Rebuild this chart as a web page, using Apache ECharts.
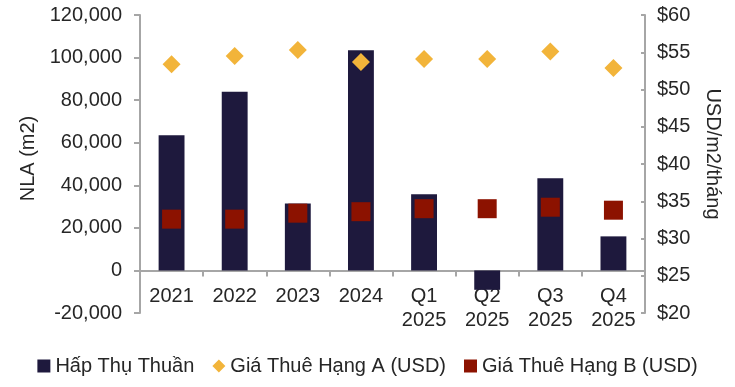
<!DOCTYPE html>
<html><head><meta charset="utf-8">
<script src="https://cdn.jsdelivr.net/npm/echarts@6/dist/echarts.min.js"></script>
<style>html,body{margin:0;padding:0;background:#fff}#c{width:735px;height:387px}</style>
</head><body><div id="c"></div>
<script>
var categories = ['2021', '2022', '2023', '2024', 'Q1\n2025', 'Q2\n2025', 'Q3\n2025', 'Q4\n2025'];
var netAbsorption = [63500, 84000, 31500, 103400, 35800, -9100, 43300, 16000];
var rentA = [53.4, 54.5, 55.3, 53.7, 54.1, 54.1, 55.1, 52.9];
var rentB = [32.6, 32.6, 33.4, 33.6, 34.0, 34.0, 34.2, 33.8];
var seriesNames = ['Hấp Thụ Thuần', 'Giá Thuê Hạng A (USD)', 'Giá Thuê Hạng B (USD)'];

var font = 'Liberation Sans, Arial, sans-serif';
var txt = '#262626';
var axisCol = '#a6a6a6';
var chart = echarts.init(document.getElementById('c'));
chart.setOption({
  animation: false,
  textStyle: {fontFamily: font},
  grid: {left: 140, right: 90, top: 15, bottom: 74},
  legend: {
    bottom: 6, left: 'center', itemGap: 18, itemWidth: 13, itemHeight: 13,
    textStyle: {fontSize: 20, color: txt, fontFamily: font},
    data: [
      {name: seriesNames[0], icon: 'rect'},
      {name: seriesNames[1], icon: 'diamond'},
      {name: seriesNames[2], icon: 'rect'}
    ]
  },
  xAxis: {
    type: 'category', data: categories,
    axisLine: {lineStyle: {color: axisCol, width: 2}},
    axisTick: {show: true, length: 6, lineStyle: {color: axisCol, width: 2}},
    axisLabel: {color: txt, fontSize: 20, margin: -29, lineHeight: 24}
  },
  yAxis: [{
    type: 'value', min: -20000, max: 120000, interval: 20000, position: 'left',
    name: 'NLA (m2)', nameLocation: 'middle', nameGap: 102,
    nameTextStyle: {fontSize: 20, color: txt, padding: [0, 0, 0, 11]},
    axisLine: {show: true, lineStyle: {color: axisCol, width: 2}},
    axisTick: {show: true, length: 6, lineStyle: {color: axisCol, width: 2}},
    splitLine: {show: false},
    axisLabel: {color: txt, fontSize: 20, margin: 18,
      formatter: function (v) { return v.toLocaleString('en-US'); }}
  }, {
    type: 'value', min: 20, max: 60, interval: 5, position: 'right',
    name: 'USD/m2/tháng', nameLocation: 'middle', nameGap: 58, nameRotate: -90,
    nameTextStyle: {fontSize: 20, color: txt, padding: [0, 20, 0, 0]},
    axisLine: {show: true, lineStyle: {color: axisCol, width: 2}},
    axisTick: {show: true, inside: true, length: 4, lineStyle: {color: axisCol, width: 2}},
    splitLine: {show: false},
    axisLabel: {color: txt, fontSize: 20, margin: 12, formatter: '${value}'}
  }],
  series: [{
    name: seriesNames[0], type: 'bar', data: netAbsorption, barWidth: '41%',
    itemStyle: {color: '#1e193d'}
  }, {
    name: seriesNames[1], type: 'scatter', yAxisIndex: 1, data: rentA,
    symbol: 'diamond', symbolSize: 18, itemStyle: {color: '#f2b43a', opacity: 1}
  }, {
    name: seriesNames[2], type: 'scatter', yAxisIndex: 1, data: rentB,
    symbol: 'rect', symbolSize: 19, itemStyle: {color: '#8c1200', opacity: 1}
  }]
});
</script></body></html>
